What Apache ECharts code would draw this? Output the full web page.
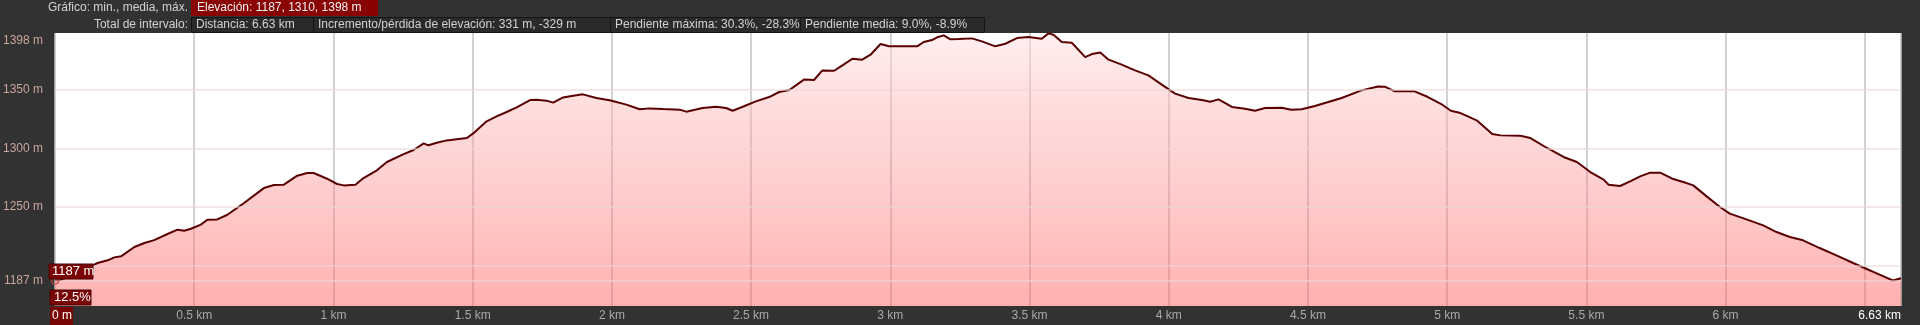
<!DOCTYPE html>
<html>
<head>
<meta charset="utf-8">
<script src="https://cdn.jsdelivr.net/npm/echarts@6/dist/echarts.min.js"></script>
<style>
html,body{margin:0;padding:0;background:#323232;}
#c{width:1920px;height:325px;}
</style>
</head>
<body>
<div id="c"></div>
<script>
// distance along the route (km)
const dist = [0.000,0.020,0.052,0.100,0.153,0.189,0.213,0.237,0.285,0.321,0.356,0.404,0.440,0.464,0.488,0.524,0.547,0.583,0.619,0.679,
0.750,0.786,0.822,0.870,0.906,0.929,0.977,1.013,1.037,1.079,1.108,1.156,1.192,1.252,1.288,1.324,1.341,1.371,1.407,1.479,
1.502,1.550,1.586,1.622,1.658,1.706,1.729,1.765,1.789,1.825,1.861,1.896,1.944,1.992,2.052,2.100,2.135,2.183,2.243,2.267,
2.326,2.374,2.410,2.434,2.470,2.517,2.565,2.601,2.637,2.661,2.691,2.726,2.756,2.798,2.828,2.864,2.899,2.929,2.965,2.995,
3.096,3.120,3.150,3.168,3.192,3.216,3.245,3.293,3.329,3.377,3.413,3.455,3.496,3.544,3.568,3.586,3.616,3.652,3.700,3.724,
3.754,3.784,3.831,3.879,3.927,3.975,4.023,4.071,4.119,4.149,4.179,4.227,4.274,4.310,4.346,4.406,4.440,4.477,4.525,4.573,
4.621,4.692,4.752,4.776,4.812,4.883,4.931,4.979,5.013,5.048,5.108,5.162,5.192,5.263,5.299,5.359,5.418,5.466,5.514,5.562,
5.580,5.621,5.657,5.693,5.729,5.765,5.812,5.848,5.884,5.932,5.980,6.015,6.075,6.135,6.183,6.231,6.278,6.338,6.398,6.458,
6.505,6.553,6.601,6.630];
// elevation (m)
const elev = [1187,1187.5,1190.6,1196,1202,1204.3,1206.8,1207.7,1215.7,1219.1,1221.6,1226.8,1230.5,1229.6,1231.3,1234.8,1239,1239.3,1243.3,1253.3,
1266.1,1268.7,1269,1276.7,1279,1279,1274.1,1269.6,1268.4,1269,1274.7,1281.3,1288.4,1295.2,1298.7,1304.4,1302.7,1304.9,1306.9,1308.9,
1312.9,1323.2,1327.5,1331.2,1335.2,1341.4,1341.7,1340.9,1339.2,1343.7,1345.2,1346.3,1343.2,1341.2,1337.5,1333.5,1334.3,1333.7,1333.2,1331.5,
1334.6,1335.7,1334.6,1332.3,1335.7,1340.3,1344,1348.3,1350,1354,1359.1,1358.6,1366.8,1366.5,1371.1,1376.8,1376,1380.2,1389.4,1387.4,
1387.4,1391.1,1392.8,1395.1,1396.8,1393.4,1393.6,1394.2,1391.6,1387.4,1389.6,1394.5,1395.4,1393.9,1398.5,1397.3,1391.1,1390.5,1378.2,1380.8,
1382.2,1376,1371.7,1366.8,1362.5,1354.6,1346.9,1343.2,1341.4,1340,1342,1335.5,1334,1332.3,1334.6,1334.9,1333.2,1333.5,1336.3,1339.7,
1343.2,1349.7,1353.1,1352.9,1348.9,1348.9,1344,1338,1332.3,1330.3,1323.8,1312.4,1311.2,1310.9,1308.9,1300.4,1292.7,1288.4,1279.8,1273.3,
1269,1267.9,1271.8,1276.1,1279.3,1279.3,1273.8,1271.3,1268.4,1259,1249.9,1244.2,1239.3,1234.2,1228.5,1224.2,1221.4,1214.8,1208.5,1202,
1197.1,1192,1187,1189];

const yLabelValues = [1187, 1250, 1300, 1350, 1398];
const yGridValues = [1187, 1200, 1250, 1300, 1350];
const xMin = 0, xMax = 6.63, xStep = 0.5;
const yMin = 1165.2, yMax = 1398.8;

const headerRow1Label = 'Gráfico: min., media, máx.';
const headerRow1Value = 'Elevación: 1187, 1310, 1398 m';
const headerRow2Label = 'Total de intervalo:';
const headerRow2Values = ['Distancia: 6.63 km', 'Incremento/pérdida de elevación: 331 m, -329 m', 'Pendiente máxima: 30.3%, -28.3%', 'Pendiente media: 9.0%, -8.9%'];
const cursorElev = '1187 m';
const cursorSlope = '12.5%';
const cursorDist = '0 m';

const FONT = '"Liberation Sans", Arial, sans-serif';
const chart = echarts.init(document.getElementById('c'));

const boxEdges = [191, 313, 610, 800, 984];
const graphics = [
  {type:'text', style:{x:188, y:8, text:headerRow1Label, textAlign:'right', textVerticalAlign:'middle', fill:'#d2d2d2', font:'12px '+FONT}},
  {type:'rect', shape:{x:191, y:0, width:187, height:16}, style:{fill:'#8a0303'}},
  {type:'text', style:{x:197, y:8, text:headerRow1Value, textVerticalAlign:'middle', fill:'#f2f2f2', font:'12px '+FONT}},
  {type:'text', style:{x:188, y:25, text:headerRow2Label, textAlign:'right', textVerticalAlign:'middle', fill:'#d2d2d2', font:'12px '+FONT}}
];
headerRow2Values.forEach((t, i) => {
  graphics.push({type:'rect', shape:{x:boxEdges[i]+0.5, y:17.5, width:boxEdges[i+1]-boxEdges[i], height:15}, style:{fill:'#2a2a2a', stroke:'#151515', lineWidth:1}});
  graphics.push({type:'text', style:{x:boxEdges[i]+5, y:25, text:t, textVerticalAlign:'middle', fill:'#d2d2d2', font:'12px '+FONT}});
});
graphics.push(
  {type:'rect', shape:{x:49, y:264, width:44, height:15}, style:{fill:'#7a0505', stroke:'#4a0000', lineWidth:1}, z:100},
  {type:'text', style:{x:52, y:271.5, text:cursorElev, textVerticalAlign:'middle', fill:'#ffffff', font:'13px '+FONT}, z:101},
  {type:'rect', shape:{x:50, y:290, width:41, height:15}, style:{fill:'#7a0505', stroke:'#4a0000', lineWidth:1}, z:100},
  {type:'text', style:{x:54, y:297.5, text:cursorSlope, textVerticalAlign:'middle', fill:'#ffffff', font:'13px '+FONT}, z:101},
  {type:'rect', shape:{x:50, y:307, width:23, height:18}, style:{fill:'#7a0505'}, z:100},
  {type:'text', style:{x:52, y:316, text:cursorDist, textVerticalAlign:'middle', fill:'#ffffff', font:'12px '+FONT}, z:101}
);

chart.setOption({
  backgroundColor: '#323232',
  animation: false,
  grid: {left:50, right:19, top:33, height:273, show:true, backgroundColor:'#ffffff', borderWidth:0},
  graphic: graphics,
  xAxis: {
    type:'value', min:xMin, max:xMax, interval:xStep,
    axisLine:{show:false}, axisTick:{show:false},
    splitLine:{show:true, lineStyle:{color:'#c2c2c2', width:1.5}},
    axisLabel:{
      margin:4, fontSize:12, fontFamily:FONT, color:'#a9a9a9',
      alignMaxLabel:'right',
      formatter: v => {
        if (v === 0) return '';
        if (Math.abs(v - xMax) < 1e-6) return '{e|' + xMax + ' km}';
        if (Math.abs(v - 6.5) < 1e-6) return '';
        return v + ' km';
      },
      rich:{
        e:{color:'#ffffff', fontSize:12, fontFamily:FONT}
      }
    }
  },
  yAxis: {
    type:'value', min:yMin, max:yMax,
    axisLine:{show:false}, axisTick:{show:false}, splitLine:{show:false},
    axisLabel:{
      customValues: yLabelValues,
      margin:12, fontSize:12, fontFamily:FONT, color:'#c9a69e',
      formatter: v => v === 1398 ? '{t|1398 m}' : v + ' m',
      rich:{t:{padding:[13,0,0,0], color:'#c9a69e', fontSize:12, fontFamily:FONT}}
    }
  },
  series: [{
    type:'line',
    data: dist.map((d, i) => [d, elev[i]]),
    showSymbol:false,
    lineStyle:{color:'#5a0000', width:2},
    areaStyle:{
      color:{type:'linear', x:0, y:0, x2:0, y2:1, colorStops:[
        {offset:0, color:'rgba(255,225,225,0.78)'},
        {offset:0.5, color:'rgba(255,150,150,0.62)'},
        {offset:1, color:'rgba(255,95,95,0.7)'}
      ]}
    },
    markLine:{
      silent:true, symbol:'none', label:{show:false},
      lineStyle:{color:'rgba(236,214,214,0.75)', width:1.5, type:'solid'},
      data: yGridValues.map(v => ({yAxis:v}))
    },
    markPoint:{
      silent:true, symbol:'circle', symbolSize:7,
      itemStyle:{color:'rgba(0,0,0,0)', borderColor:'#d23b3b', borderWidth:1.2},
      label:{show:false},
      data:[{coord:[dist[0], elev[0]]}]
    }
  }]
});
</script>
</body>
</html>
